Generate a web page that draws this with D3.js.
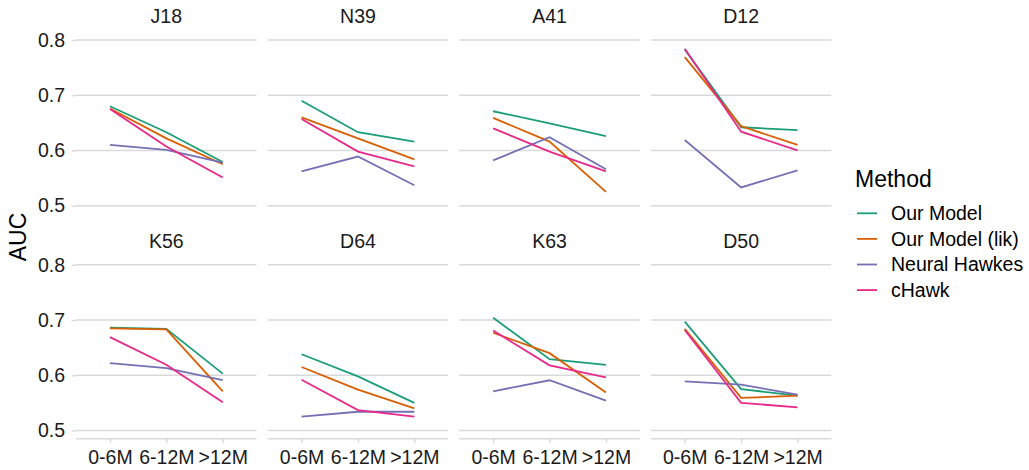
<!DOCTYPE html>
<html>
<head>
<meta charset="utf-8">
<script src="https://cdn.jsdelivr.net/npm/d3@7"></script>
<style>
  body { margin: 0; background: #fff; }
  text { font-family: "Liberation Sans", Arial, sans-serif; }
</style>
</head>
<body>
<div id="chart"></div>
<script>
// facet names, x categories and legend labels
var datasets = ["J18", "N39", "A41", "D12", "K56", "D64", "K63", "D50"];
var periods = ["0-6M", "6-12M", ">12M"];
var methods = ["Our Model", "Our Model (lik)", "Neural Hawkes", "cHawk"];
var yTicks = [0.5, 0.6, 0.7, 0.8];

// AUC per dataset (same order as datasets), one value per period
var ourModel = [
  [0.680, 0.633, 0.579], [0.690, 0.633, 0.616], [0.671, 0.649, 0.626], [0.783, 0.642, 0.637],
  [0.686, 0.684, 0.603], [0.638, 0.598, 0.550], [0.704, 0.629, 0.619], [0.697, 0.575, 0.563]
];
var ourModelLik = [
  [0.676, 0.622, 0.575], [0.660, 0.622, 0.584], [0.659, 0.616, 0.525], [0.769, 0.644, 0.610],
  [0.685, 0.683, 0.571], [0.615, 0.574, 0.540], [0.677, 0.640, 0.569], [0.684, 0.559, 0.563]
];
var neuralHawkes = [
  [0.610, 0.601, 0.578], [0.562, 0.589, 0.537], [0.582, 0.624, 0.566], [0.619, 0.533, 0.564],
  [0.622, 0.613, 0.591], [0.525, 0.534, 0.534], [0.571, 0.591, 0.554], [0.589, 0.583, 0.565]
];
var cHawk = [
  [0.675, 0.607, 0.551], [0.657, 0.598, 0.571], [0.640, 0.598, 0.562], [0.784, 0.634, 0.600],
  [0.669, 0.619, 0.551], [0.592, 0.537, 0.525], [0.681, 0.618, 0.596], [0.682, 0.550, 0.542]
];

var seriesValues = [ourModel, ourModelLik, neuralHawkes, cHawk];
var colors = ["#1B9E77", "#D95F02", "#7570B3", "#E7298A"];

var width = 1029,
    height = 470;

var panelW = 180.5,
    panelH = 182.3,
    panelLeft = 76.1,
    panelStepX = 191.6,
    panelTop = 31.7,
    panelStepY = 224.8,
    gridColor = "#d9d9d9";

var svg = d3.select("#chart")
  .append("svg")
  .attr("width", width)
  .attr("height", height);

var xScale = d3.scalePoint()
  .domain(periods)
  .range([0, panelW])
  .padding(0.6);

// ylim(0.5, 0.8) plus ggplot's 5% expansion
var yScale = d3.scaleLinear()
  .domain([0.485, 0.815])
  .range([panelH, 0]);

var colorScale = d3.scaleOrdinal()
  .domain(methods)
  .range(colors);

var line = d3.line()
  .x(function(d) { return xScale(d.period); })
  .y(function(d) { return yScale(d.value); });

datasets.forEach(function(name, i) {
  var col = i % 4,
      row = Math.floor(i / 4);

  var g = svg.append("g")
    .attr("transform", "translate(" + (panelLeft + col * panelStepX) + "," + (panelTop + row * panelStepY) + ")");

  // horizontal grid
  g.selectAll(".grid")
    .data(yTicks)
    .enter().append("line")
    .attr("x1", 0)
    .attr("x2", panelW)
    .attr("y1", function(d) { return yScale(d); })
    .attr("y2", function(d) { return yScale(d); })
    .attr("stroke", gridColor)
    .attr("stroke-width", 1.4);

  // strip title
  g.append("text")
    .attr("x", panelW / 2)
    .attr("y", -8.5)
    .attr("text-anchor", "middle")
    .attr("font-size", "19.5px")
    .attr("fill", "#1a1a1a")
    .text(name);

  // y axis on left column only
  if (col === 0) {
    var yAxis = g.append("g")
      .call(d3.axisLeft(yScale).tickValues(yTicks).tickSize(4.4).tickSizeOuter(0).tickFormat(d3.format(".1f")));
    yAxis.select(".domain").remove();
    yAxis.selectAll(".tick line").attr("stroke", gridColor).attr("stroke-width", 1.4);
    yAxis.selectAll(".tick text")
      .attr("x", -11)
      .attr("font-size", "19.5px")
      .attr("font-family", "Liberation Sans, Arial, sans-serif")
      .attr("fill", "#1a1a1a");
  }

  // x axis on bottom row only
  if (row === 1) {
    var xAxis = g.append("g")
      .attr("transform", "translate(0," + panelH + ")")
      .call(d3.axisBottom(xScale).tickSize(4.4).tickSizeOuter(0));
    xAxis.select(".domain").attr("stroke", gridColor).attr("stroke-width", 1.4)
      .attr("d", "M0,0H" + panelW);
    xAxis.selectAll(".tick line").attr("stroke", gridColor).attr("stroke-width", 1.4);
    xAxis.selectAll(".tick text")
      .attr("y", 11)
      .attr("font-size", "19.5px")
      .attr("font-family", "Liberation Sans, Arial, sans-serif")
      .attr("fill", "#1a1a1a");
  }

  // one line per method
  methods.forEach(function(m, k) {
    var pts = periods.map(function(p, j) {
      return { period: p, value: seriesValues[k][i][j] };
    });
    g.append("path")
      .datum(pts)
      .attr("fill", "none")
      .attr("stroke", colorScale(m))
      .attr("stroke-width", 1.8)
      .attr("d", line);
  });
});

// y axis title
svg.append("text")
  .attr("transform", "translate(26,237) rotate(-90)")
  .attr("text-anchor", "middle")
  .attr("font-size", "23px")
  .attr("fill", "#000")
  .text("AUC");

// legend
var legend = svg.append("g")
  .attr("transform", "translate(855,0)");

legend.append("text")
  .attr("x", 0)
  .attr("y", 187)
  .attr("font-size", "23px")
  .attr("fill", "#000")
  .text("Method");

var items = legend.selectAll(".item")
  .data(methods)
  .enter().append("g")
  .attr("transform", function(d, k) { return "translate(0," + (213.3 + k * 25.6) + ")"; });

items.append("line")
  .attr("x1", 2)
  .attr("x2", 22)
  .attr("stroke", function(d) { return colorScale(d); })
  .attr("stroke-width", 1.8);

items.append("text")
  .attr("x", 36)
  .attr("dy", "0.35em")
  .attr("font-size", "19.5px")
  .attr("fill", "#000")
  .text(function(d) { return d; });
</script>
</body>
</html>
